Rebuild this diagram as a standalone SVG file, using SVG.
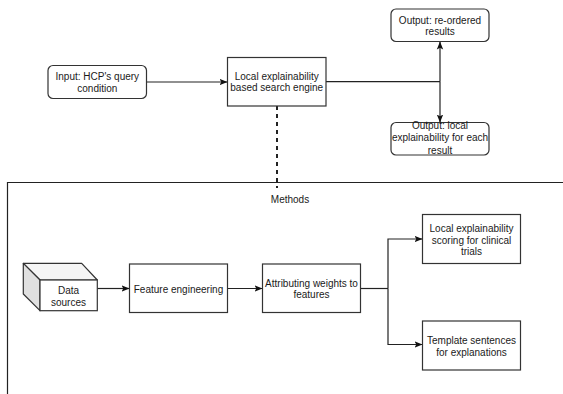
<svg xmlns="http://www.w3.org/2000/svg" width="563" height="394" viewBox="0 0 563 394">
<defs>
<style>
.box{fill:#fff;stroke:#333;stroke-width:1.2}
.t{font-family:"Liberation Sans",Arial,sans-serif;font-size:10px;fill:#1a1a1a;text-anchor:middle}
.c{fill:none;stroke:#222;stroke-width:1.2}
.d{fill:none;stroke:#222;stroke-width:2;stroke-dasharray:4 4}
</style>
<marker id="ah" markerWidth="8" markerHeight="8" viewBox="0 0 8 8" refX="7.5" refY="4" orient="auto" markerUnits="userSpaceOnUse">
<path d="M0,0.8 L8,4 L0,7.2 L1.8,4 Z" fill="#111"/>
</marker>
</defs>
<rect width="563" height="394" fill="#fff"/>
<g id="connectors">
<path class="c" d="M146.5,82 H227" marker-end="url(#ah)"/>
<path class="c" d="M326,81.7 H440"/>
<path class="c" d="M440,81.7 V42" marker-end="url(#ah)"/>
<path class="c" d="M440,81.7 V122" marker-end="url(#ah)"/>
<path class="d" d="M277,106 V188"/>
<path class="c" d="M97.3,288.5 H129" marker-end="url(#ah)"/>
<path class="c" d="M227.5,288.5 H262" marker-end="url(#ah)"/>
<path class="c" d="M360.5,288.5 H388"/>
<path class="c" d="M388,288.5 V239 H422" marker-end="url(#ah)"/>
<path class="c" d="M388,288.5 V344.5 H422" marker-end="url(#ah)"/>
</g>
<g id="input">
<rect class="box" x="48" y="65.5" width="98.5" height="33" rx="5"/>
<text class="t" x="97.3" y="80.2">Input: HCP's query</text>
<text class="t" x="97.3" y="91.8">condition</text>
</g>
<g id="engine">
<rect class="box" x="227.5" y="57.5" width="98.5" height="48.5"/>
<text class="t" x="276.7" y="79.5">Local explainability</text>
<text class="t" x="276.7" y="91.2">based search engine</text>
</g>
<g id="out-reordered">
<rect class="box" x="391" y="9" width="98" height="32.5" rx="5"/>
<text class="t" x="440" y="23.5">Output: re-ordered</text>
<text class="t" x="440" y="35.2">results</text>
</g>
<g id="out-local">
<rect class="box" x="391" y="122.5" width="98" height="32.5" rx="5"/>
<text class="t" x="440" y="128.8">Output: local</text>
<text class="t" x="440" y="141.3">explainability for each</text>
<text class="t" x="440" y="153.8">result</text>
</g>
<g id="methods">
<path class="c" d="M7.5,394 V182.5 H563" stroke="#333"/>
<text class="t" x="290" y="202.5">Methods</text>
</g>
<g id="data-sources">
<polygon points="23.3,263.3 81.7,263.3 97.3,280 40,280" fill="#f5f5f5" stroke="#333" stroke-width="1.2" stroke-linejoin="round"/>
<polygon points="23.3,263.3 40,280 40,310.7 23.3,294" fill="#e0e0e0" stroke="#333" stroke-width="1.2" stroke-linejoin="round"/>
<rect class="box" x="40" y="280" width="57.3" height="30.7"/>
<text class="t" x="68.5" y="294.2">Data</text>
<text class="t" x="68.5" y="305.6">sources</text>
</g>
<g id="feature-engineering">
<rect class="box" x="129.5" y="264" width="98" height="48.5"/>
<text class="t" x="178.5" y="292.5">Feature engineering</text>
</g>
<g id="attributing">
<rect class="box" x="262.5" y="264" width="98" height="48.5"/>
<text class="t" x="311.5" y="286.8">Attributing weights to</text>
<text class="t" x="311.5" y="297.8">features</text>
</g>
<g id="scoring">
<rect class="box" x="422.5" y="214.5" width="98" height="49"/>
<text class="t" x="471.5" y="231.8">Local explainability</text>
<text class="t" x="471.5" y="243.5">scoring for clinical</text>
<text class="t" x="471.5" y="255.2">trials</text>
</g>
<g id="template">
<rect class="box" x="422.5" y="321" width="98" height="49"/>
<text class="t" x="471.5" y="343.8">Template sentences</text>
<text class="t" x="471.5" y="356.2">for explanations</text>
</g>
</svg>
